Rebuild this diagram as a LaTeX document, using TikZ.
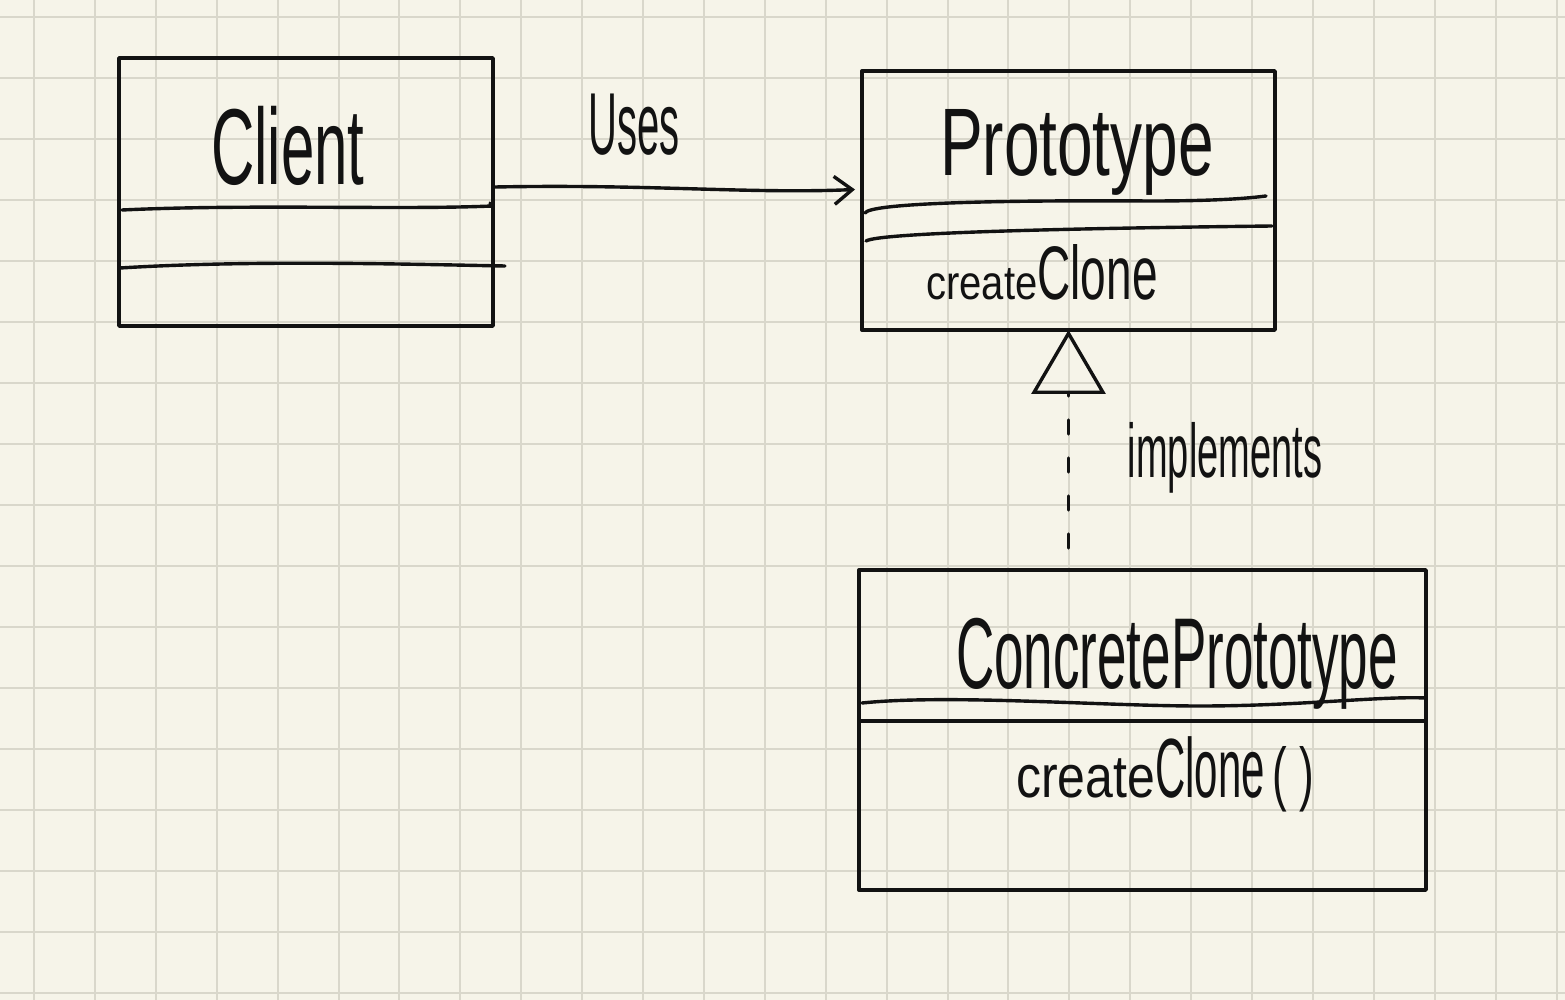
\documentclass[tikz,border=0pt]{standalone}
\usepackage{fontspec}
\setmainfont{Liberation Sans}
\usepackage{graphicx}
\usetikzlibrary{arrows.meta,calc}
\definecolor{paper}{HTML}{F6F4E9}
\definecolor{gridc}{HTML}{D9D7CB}
\definecolor{ink}{HTML}{121212}
\newcommand{\hw}[3]{{\fontsize{#1}{#1}\selectfont\scalebox{1}[#2]{#3}}}
\begin{document}
\begin{tikzpicture}[x=0.5pt,y=-0.5pt,
  pen/.style={draw=ink,line width=1.7pt,line cap=round,line join=round},
  umlbox/.style={pen,rectangle,inner sep=0pt,outer sep=0pt},
  label/.style={text=ink,inner sep=0pt,anchor=base},
  uses/.style={pen,-{Straight Barb[length=9pt,width=14pt,line width=1.7pt]}},
  impl/.style={pen,dash pattern=on 7pt off 12pt,-{Triangle[open,length=32pt,width=37pt,line width=1.7pt]}}]
% paper
\fill[paper] (0,0) rectangle (1565,1000);
\useasboundingbox (0,0) rectangle (1565,1000);
\foreach \i in {0,...,25} {\draw[gridc,line width=1pt] ({34+60.9*\i},0) -- ({34+60.9*\i},1000);}
\foreach \j in {0,...,16} {\draw[gridc,line width=1pt] (0,{17+61*\j}) -- (1565,{17+61*\j});}
% boxes
\node[umlbox,minimum width=187pt,minimum height=134pt] (client) at (306,192) {};
\node[umlbox,minimum width=206.5pt,minimum height=129.5pt] (proto) at (1068.5,200.5) {};
\node[umlbox,minimum width=283.5pt,minimum height=160pt] (concrete) at (1142.5,730) {};
% compartment lines
\draw[pen] (122,210) .. controls (250,204) and (400,210) .. (492,206) -- (490,203);
\draw[pen] (120,268) .. controls (250,260) and (400,264) .. (505,266);
\draw[pen] (865,213) .. controls (870,203) and (1000,200) .. (1150,201) .. controls (1220,201) and (1250,198) .. (1266,196);
\draw[pen] (866,241) .. controls (880,232) and (1100,228) .. (1272,226);
\draw[pen] (862,703) .. controls (950,694) and (1100,706) .. (1200,706) .. controls (1300,706) and (1380,696) .. (1426,698);
\draw[pen] (859,721) -- (1426,721);
% texts
\node[label] (tclient) at (288,185) {\hw{30}{1.8}{Client}};
\node[label] (tuses) at (634,155) {\hw{20}{2.2}{Uses}};
\node[label] (tproto) at (1077,176) {\hw{32}{1.5}{Prototype}};
\node[label] (tpclone) at (1042,300) {\hw{20}{1.2}{create}\hw{23}{1.65}{Clone}};
\node[label] (timpl) at (1225,478) {\hw{19}{2}{implements}};
\node[label] (tconc) at (1177,688) {\hw{26.5}{1.9}{ConcretePrototype}};
\node[label] (tcclone) at (1165,797) {\hw{25}{1.2}{create}\hw{21}{2.0}{Clone}\hw{22}{1.6}{\,( )}};
% connectors
\draw[uses] ($(client.east)+(2,-5)$) .. controls (650,184) and (750,194) .. ($(proto.west)+(-7,-11)$);
\draw[impl,shorten <=11pt] (concrete.north -| proto.south) -- (proto.south);
\end{tikzpicture}
\end{document}
